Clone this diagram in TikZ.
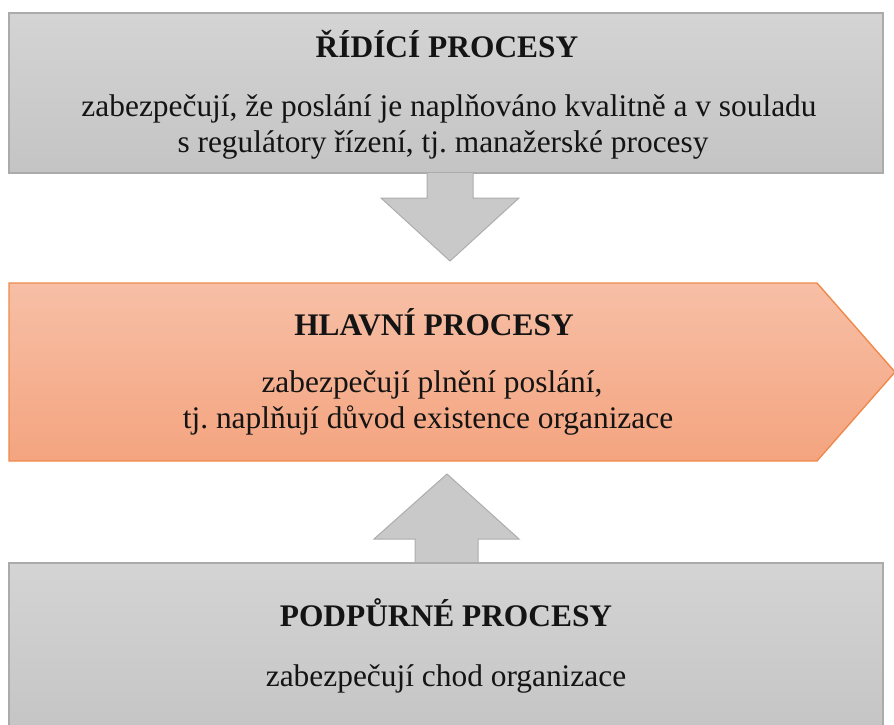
\documentclass[tikz,border=0pt]{standalone}
\usepackage{fontspec}
\setmainfont{Liberation Serif}
\frenchspacing
\begin{document}
\begin{tikzpicture}[x=1pt,y=-1pt,
  graybox/.style={draw=boxline, line width=1.2pt, top color=grayhi, bottom color=graylo},
  orangebox/.style={draw=orangeline, line width=1.4pt, top color=orangehi, bottom color=orangelo},
  blockarrow/.style={draw=arrowline, line width=1pt, fill=arrowfill},
  title/.style={anchor=base, inner sep=0pt, text=ink, font=\fontsize{31.4}{36}\selectfont\bfseries},
  body/.style={anchor=base, inner sep=0pt, text=ink, font=\fontsize{31.4}{36}\selectfont}]
\definecolor{grayhi}{HTML}{D4D4D4}
\definecolor{graylo}{HTML}{C4C4C4}
\definecolor{boxline}{HTML}{ABABAB}
\definecolor{orangehi}{HTML}{F7BFA6}
\definecolor{orangelo}{HTML}{F4A47F}
\definecolor{orangeline}{HTML}{EF8A4C}
\definecolor{arrowfill}{HTML}{C9C9C9}
\definecolor{arrowline}{HTML}{ADADAD}
\definecolor{ink}{HTML}{141414}

\clip (0,0) rectangle (894,724);
\fill[white] (0,0) rectangle (894,724);

% control processes box
\path[graybox] (9,13) rectangle (883,173);
% downward block arrow into the main processes
\path[blockarrow] (427,173) -- (427,198) -- (381,198) -- (450,261)
  -- (519,198) -- (473,198) -- (473,173);
% main processes pentagon
\path[orangebox] (9,283) -- (817,283) -- (895,372) -- (817,461) -- (9,461) -- cycle;
% upward block arrow from the support processes
\path[blockarrow] (415,563) -- (415,539) -- (374,539) -- (447,474)
  -- (519,539) -- (478,539) -- (478,563);
% support processes box
\path[graybox] (9,563) rectangle (883,740);

\node[title] (ridici) at (447,57) {ŘÍDÍCÍ PROCESY};
\node[body] (ridiciA) at (449,116) {zabezpečují, že poslání je naplňováno kvalitně a v souladu};
\node[body] (ridiciB) at (443,152) {s regulátory řízení, tj. manažerské procesy};

\node[title] (hlavni) at (434,335) {HLAVNÍ PROCESY};
\node[body] (hlavniA) at (432,392) {zabezpečují plnění poslání,};
\node[body] (hlavniB) at (428,428) {tj. naplňují důvod existence organizace};

\node[title] (podpurne) at (446,626) {PODPŮRNÉ PROCESY};
\node[body] (podpurneA) at (446,686) {zabezpečují chod organizace};
\end{tikzpicture}
\end{document}
